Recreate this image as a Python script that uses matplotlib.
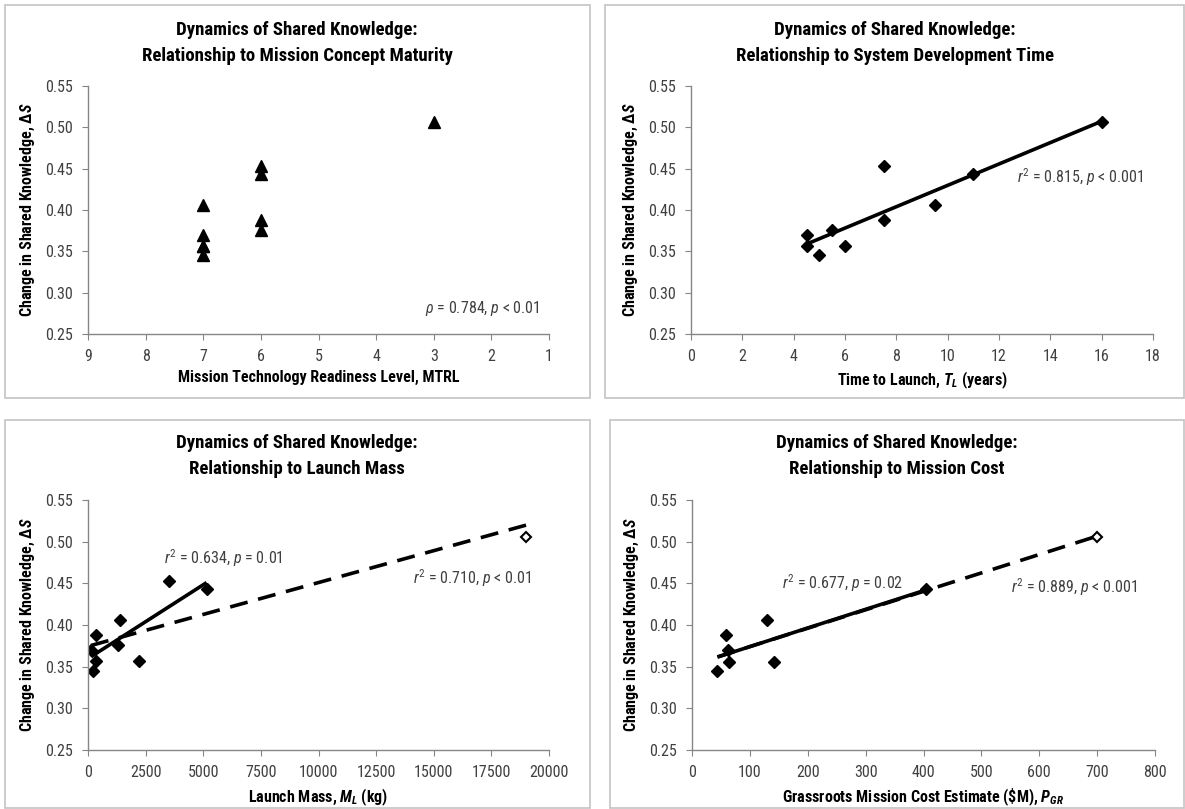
import matplotlib.pyplot as plt
import numpy as np
from matplotlib import font_manager
from matplotlib.patches import Rectangle

# Change in shared knowledge for the ten missions
delta_s = [0.345, 0.357, 0.357, 0.370, 0.376, 0.388, 0.406, 0.443, 0.453, 0.506]
# matching explanatory variables
mtrl = [7, 7, 7, 7, 6, 6, 7, 6, 6, 3]
time_to_launch = [5.0, 4.5, 6.0, 4.5, 5.5, 7.5, 9.5, 11.0, 7.5, 16.0]
launch_mass = [228, 342, 2199, 130, 1303, 342, 1368, 5147, 3502, 19007]
# cost estimates only known for eight missions
cost = [44, 58, 62, 64, 130, 141, 405, 699]
cost_ds = [0.345, 0.388, 0.370, 0.356, 0.406, 0.356, 0.443, 0.506]

# a narrow face is closest to the Calibri of the original
names = {f.name for f in font_manager.fontManager.ttflist}
candidates = ["Liberation Sans Narrow", "Roboto Condensed", "Open Sans Condensed",
              "Noto Sans Condensed", "DejaVu Sans Condensed", "Liberation Sans"]
FONT = next(c for c in candidates if c in names or c == "Liberation Sans")
NARROW = FONT != "Liberation Sans"
plt.rcParams["font.family"] = [FONT, "DejaVu Sans"]
plt.rcParams["mathtext.fontset"] = "custom"
plt.rcParams["mathtext.rm"] = FONT
plt.rcParams["mathtext.it"] = FONT + ":italic"
plt.rcParams["mathtext.bf"] = FONT + ":bold"
plt.rcParams["mathtext.bfit"] = FONT + ":bold:italic"

TITLE_SIZE = 13.5 if NARROW else 11.5
LABEL_SIZE = 11.5 if NARROW else 10
TICK_SIZE = 11.5 if NARROW else 10
NOTE_SIZE = 11.5 if NARROW else 10.5

W, H = 1185, 809
fig = plt.figure(figsize=(W / 100, H / 100), dpi=100)

AXIS_GREY = "#868686"
TEXT_GREY = "#404040"


def box(x0, y0, x1, y1):
    return [x0 / W, 1 - y1 / H, (x1 - x0) / W, (y1 - y0) / H]


def frame(x0, y0, x1, y1):
    fig.patches.append(Rectangle((x0 / W, 1 - y1 / H), (x1 - x0) / W, (y1 - y0) / H,
                                 transform=fig.transFigure, fill=False,
                                 edgecolor="#c8c8c8", lw=1.3))


def setup(ax, xlim, xticks, xlabel, title, title_x, title_y):
    ax.set_xlim(*xlim)
    ax.set_ylim(0.25, 0.55)
    ax.set_xticks(xticks)
    ax.set_yticks(np.arange(0.25, 0.551, 0.05))
    ax.yaxis.set_major_formatter("{x:.2f}")
    for s in ["top", "right"]:
        ax.spines[s].set_visible(False)
    for s in ["left", "bottom"]:
        ax.spines[s].set_color(AXIS_GREY)
        ax.spines[s].set_linewidth(1.0)
    ax.tick_params(direction="out", length=4, color=AXIS_GREY, labelcolor=TEXT_GREY,
                   labelsize=TICK_SIZE, pad=7)
    ax.set_ylabel(r"Change in Shared Knowledge, Δ$\mathbfit{S}$", fontsize=LABEL_SIZE,
                  fontweight="bold", color="black")
    ax.yaxis.set_label_coords(-0.11, 0.5)
    ax.set_xlabel(xlabel, fontsize=LABEL_SIZE, fontweight="bold", color="black")
    ax.xaxis.set_label_coords(0.5, -0.145)
    fig.text(title_x / W, 1 - title_y / H, title, ha="center", va="center",
             fontsize=TITLE_SIZE, fontweight="bold", linespacing=1.55)


def trend(ax, x, y, **kw):
    x = np.asarray(x, float)
    k, b = np.polyfit(x, y, 1)
    xs = np.array([x.min(), x.max()])
    ax.plot(xs, k * xs + b, color="black", lw=2.6, solid_capstyle="butt", **kw)


frame(5, 5, 590, 398)
frame(605, 5, 1184, 398)
frame(5, 420, 590, 808)
frame(610, 420, 1184, 808)

# Mission concept maturity
ax1 = fig.add_axes(box(88, 86, 549, 334))
ax1.plot(mtrl, delta_s, "^", color="black", ms=8)
setup(ax1, (9, 1), range(9, 0, -1), "Mission Technology Readiness Level, MTRL",
      "Dynamics of Shared Knowledge:\nRelationship to Mission Concept Maturity", 297, 43)
ax1.text(3.15, 0.281, r"$\rho$ = 0.784, $p$ < 0.01", fontsize=NOTE_SIZE, color=TEXT_GREY,
         va="center")

# System development time
ax2 = fig.add_axes(box(691, 86, 1153, 334))
trend(ax2, time_to_launch, delta_s)
ax2.plot(time_to_launch, delta_s, "D", color="black", ms=6.5)
setup(ax2, (0, 18), range(0, 19, 2), r"Time to Launch, $\mathbfit{T}_{\mathbfit{L}}$ (years)",
      "Dynamics of Shared Knowledge:\nRelationship to System Development Time", 895, 43)
ax2.text(12.7, 0.44, r"$r^2$ = 0.815, $p$ < 0.001", fontsize=NOTE_SIZE, color=TEXT_GREY,
         va="center")

# Launch mass
ax3 = fig.add_axes(box(88, 500, 549, 750))
trend(ax3, launch_mass, delta_s, ls=(0, (5, 3)))
trend(ax3, launch_mass[:-1], delta_s[:-1])
ax3.plot(launch_mass[:-1], delta_s[:-1], "D", color="black", ms=6.5)
ax3.plot(launch_mass[-1:], delta_s[-1:], "D", mfc="white", mec="black", mew=1.5, ms=5.5)
setup(ax3, (0, 20000), range(0, 20001, 2500), r"Launch Mass, $\mathbfit{M}_{\mathbfit{L}}$ (kg)",
      "Dynamics of Shared Knowledge:\nRelationship to Launch Mass", 297, 456)
ax3.text(3300, 0.48, r"$r^2$ = 0.634, $p$ = 0.01", fontsize=NOTE_SIZE, color=TEXT_GREY,
         va="center")
ax3.text(14100, 0.456, r"$r^2$ = 0.710, $p$ < 0.01", fontsize=NOTE_SIZE, color=TEXT_GREY,
         va="center")

# Mission cost
ax4 = fig.add_axes(box(692, 500, 1155, 750))
trend(ax4, cost, cost_ds, ls=(0, (5, 3)))
trend(ax4, cost[:-1], cost_ds[:-1])
ax4.plot(cost[:-1], cost_ds[:-1], "D", color="black", ms=6.5)
ax4.plot(cost[-1:], cost_ds[-1:], "D", mfc="white", mec="black", mew=1.5, ms=5.5)
setup(ax4, (0, 800), range(0, 801, 100),
      r"Grassroots Mission Cost Estimate (\$M), $\mathbfit{P}_{\mathbfit{GR}}$",
      "Dynamics of Shared Knowledge:\nRelationship to Mission Cost", 897, 456)
ax4.text(155, 0.45, r"$r^2$ = 0.677, $p$ = 0.02", fontsize=NOTE_SIZE, color=TEXT_GREY,
         va="center")
ax4.text(551, 0.4455, r"$r^2$ = 0.889, $p$ < 0.001", fontsize=NOTE_SIZE, color=TEXT_GREY,
         va="center")

fig.savefig("out.png", dpi=100)
